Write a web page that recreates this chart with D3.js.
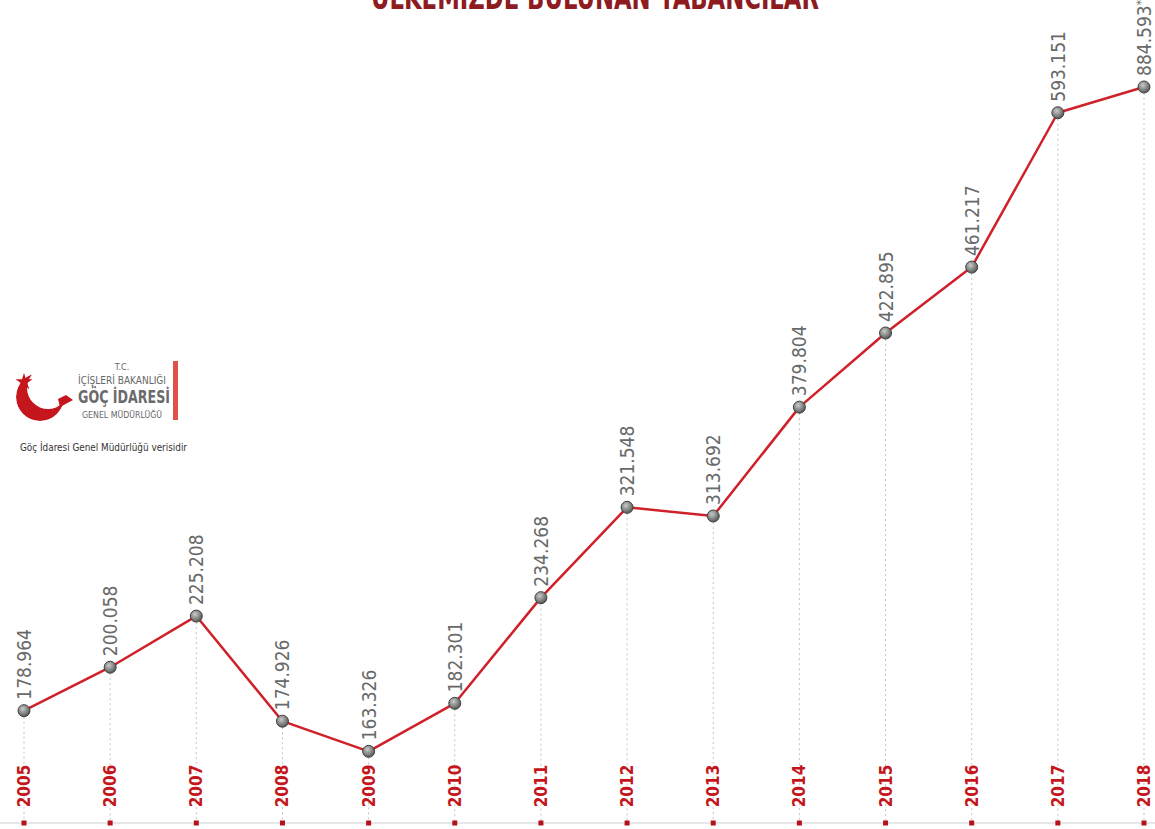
<!DOCTYPE html>
<html>
<head>
<meta charset="utf-8">
<script src="https://cdn.jsdelivr.net/npm/d3@7"></script>
<style>
  html, body { margin: 0; padding: 0; background: #fff; }
  svg { display: block; }
</style>
</head>
<body>
<div id="chart"></div>
<script>
'use strict';

// data (thousands, Turkish notation in labels)
var years = [2005, 2006, 2007, 2008, 2009, 2010, 2011, 2012, 2013, 2014, 2015, 2016, 2017, 2018];
var values = [178.964, 200.058, 225.208, 174.926, 163.326, 182.301, 234.268, 321.548, 313.692, 379.804, 422.895, 461.217, 593.151, 884.593];
var valueLabels = ['178.964', '200.058', '225.208', '174.926', '163.326', '182.301', '234.268', '321.548', '313.692', '379.804', '422.895', '461.217', '593.151', '884.593'];
var title = 'ÜLKEMİZDE BULUNAN YABANCILAR';
var source = 'Göç İdaresi Genel Müdürlüğü verisidir';

var width = 1155, height = 829;
var baseY = 823;

var svg = d3.select('#chart').append('svg')
  .attr('width', width)
  .attr('height', height);

var defs = svg.append('defs');
var grad = defs.append('radialGradient')
  .attr('id', 'dotGrad')
  .attr('cx', '40%').attr('cy', '35%').attr('r', '65%');
grad.append('stop').attr('offset', '0%').attr('stop-color', '#c9cbc9');
grad.append('stop').attr('offset', '100%').attr('stop-color', '#555856');

// x: one slot per year
var x = d3.scalePoint()
  .domain(years)
  .range([24, 1144]);

// y: the infographic is not drawn to a linear scale,
// so use a piecewise linear scale with a few breaks
var y = d3.scaleLinear()
  .domain([160, 180, 240, 320, 470, 600, 900])
  .range([760, 708, 586, 510, 252, 105, 86]);

var pts = years.map(function(yr, i){
  return { year: yr, value: values[i], label: valueLabels[i] };
});

// title (cut off by the top edge, as in the source)
svg.append('text')
  .attr('x', 595)
  .attr('y', 9)
  .attr('text-anchor', 'middle')
  .attr('textLength', 448)
  .attr('lengthAdjust', 'spacingAndGlyphs')
  .style('font-family', '"DejaVu Sans Condensed", "Liberation Sans Narrow", sans-serif')
  .style('font-weight', 'bold')
  .style('font-size', '34px')
  .style('fill', '#8e1b1f')
  .text(title);

// baseline
svg.append('line')
  .attr('x1', 0).attr('x2', width)
  .attr('y1', baseY).attr('y2', baseY)
  .style('stroke', '#cfcfcf')
  .style('stroke-width', 1);

// dashed drop lines
svg.append('g').selectAll('line')
  .data(pts)
  .enter()
  .append('line')
  .attr('x1', function(d){ return x(d.year); })
  .attr('x2', function(d){ return x(d.year); })
  .attr('y1', function(d){ return y(d.value) + 6; })
  .attr('y2', baseY)
  .style('stroke', '#b5b5b5')
  .style('stroke-width', 0.8)
  .style('stroke-dasharray', '2,3');

// red ticks on baseline
svg.append('g').selectAll('rect')
  .data(years)
  .enter()
  .append('rect')
  .attr('x', function(d){ return x(d) - 2.5; })
  .attr('y', baseY - 2.5)
  .attr('width', 5)
  .attr('height', 5)
  .style('fill', '#b5121b');

// year labels
svg.append('g').selectAll('text')
  .data(years)
  .enter()
  .append('text')
  .attr('transform', function(d){ return 'translate(' + (x(d) + 6) + ',' + 786 + ') rotate(-90)'; })
  .attr('text-anchor', 'middle')
  .style('font-family', '"DejaVu Sans Condensed", "Liberation Sans Narrow", sans-serif')
  .style('font-weight', 'bold')
  .style('font-size', '17px')
  .style('fill', '#c4161c')
  .text(function(d){ return d; });

// line
var line = d3.line()
  .x(function(d){ return x(d.year); })
  .y(function(d){ return y(d.value); });

svg.append('path')
  .datum(pts)
  .attr('d', line)
  .style('fill', 'none')
  .style('stroke', '#d0202a')
  .style('stroke-width', 2.5)
  .style('stroke-linejoin', 'round');

// dots
svg.append('g').selectAll('circle')
  .data(pts)
  .enter()
  .append('circle')
  .attr('cx', function(d){ return x(d.year); })
  .attr('cy', function(d){ return y(d.value); })
  .attr('r', 6)
  .style('fill', 'url(#dotGrad)')
  .style('stroke', '#3e403f')
  .style('stroke-width', 1);

// value labels
var vl = svg.append('g').selectAll('text')
  .data(pts)
  .enter()
  .append('text')
  .attr('transform', function(d){
    return 'translate(' + (x(d.year) + 7) + ',' + (y(d.value) - 11) + ') rotate(-90)';
  })
  .attr('text-anchor', 'start')
  .style('font-family', '"DejaVu Sans Condensed", "Liberation Sans Narrow", sans-serif')
  .style('font-size', '19px')
  .style('fill', '#686a69');

vl.append('tspan').text(function(d){ return d.label; });
vl.filter(function(d){ return d.year === 2018; })
  .append('tspan')
  .attr('dy', -6)
  .style('font-size', '12px')
  .text('*');

// logo
var logo = svg.append('g');
var mask = defs.append('mask').attr('id', 'crescent');
mask.append('rect').attr('width', width).attr('height', height).style('fill', '#000');
mask.append('circle').attr('cx', 40).attr('cy', 397).attr('r', 24).style('fill', '#fff');
mask.append('circle').attr('cx', 48).attr('cy', 388).attr('r', 21).style('fill', '#000');
logo.append('circle')
  .attr('cx', 40).attr('cy', 397).attr('r', 24)
  .attr('mask', 'url(#crescent)')
  .style('fill', '#c4161c');
logo.append('path')
  .attr('d', 'M60,407 L73,400 L66,395 L58,399 Z')
  .style('fill', '#c4161c');
logo.append('path')
  .attr('d', d3.symbol().type(d3.symbolStar).size(90)())
  .attr('transform', 'translate(24,382)')
  .style('fill', '#c4161c');

var logoFont = '"DejaVu Sans Condensed", "Liberation Sans Narrow", sans-serif';
logo.append('text').attr('x', 122).attr('y', 370).attr('text-anchor', 'middle')
  .style('font-family', logoFont).style('font-size', '9px').style('fill', '#666').text('T.C.');
logo.append('text').attr('x', 122).attr('y', 384).attr('text-anchor', 'middle')
  .attr('textLength', 88).attr('lengthAdjust', 'spacingAndGlyphs')
  .style('font-family', logoFont).style('font-size', '11px').style('fill', '#666').text('İÇİŞLERİ BAKANLIĞI');
logo.append('text').attr('x', 124).attr('y', 403).attr('text-anchor', 'middle')
  .attr('textLength', 92).attr('lengthAdjust', 'spacingAndGlyphs')
  .style('font-family', logoFont).style('font-weight', 'bold').style('font-size', '17px').style('fill', '#6a6a6a').text('GÖÇ İDARESİ');
logo.append('text').attr('x', 122).attr('y', 418).attr('text-anchor', 'middle')
  .attr('textLength', 80).attr('lengthAdjust', 'spacingAndGlyphs')
  .style('font-family', logoFont).style('font-size', '9px').style('fill', '#666').text('GENEL MÜDÜRLÜĞÜ');
logo.append('rect')
  .attr('x', 173).attr('y', 361).attr('width', 5).attr('height', 59)
  .style('fill', '#e0514a');

svg.append('text')
  .attr('x', 20).attr('y', 451)
  .attr('textLength', 167).attr('lengthAdjust', 'spacingAndGlyphs')
  .style('font-family', logoFont)
  .style('font-size', '11px')
  .style('fill', '#333')
  .text(source);
</script>
</body>
</html>
